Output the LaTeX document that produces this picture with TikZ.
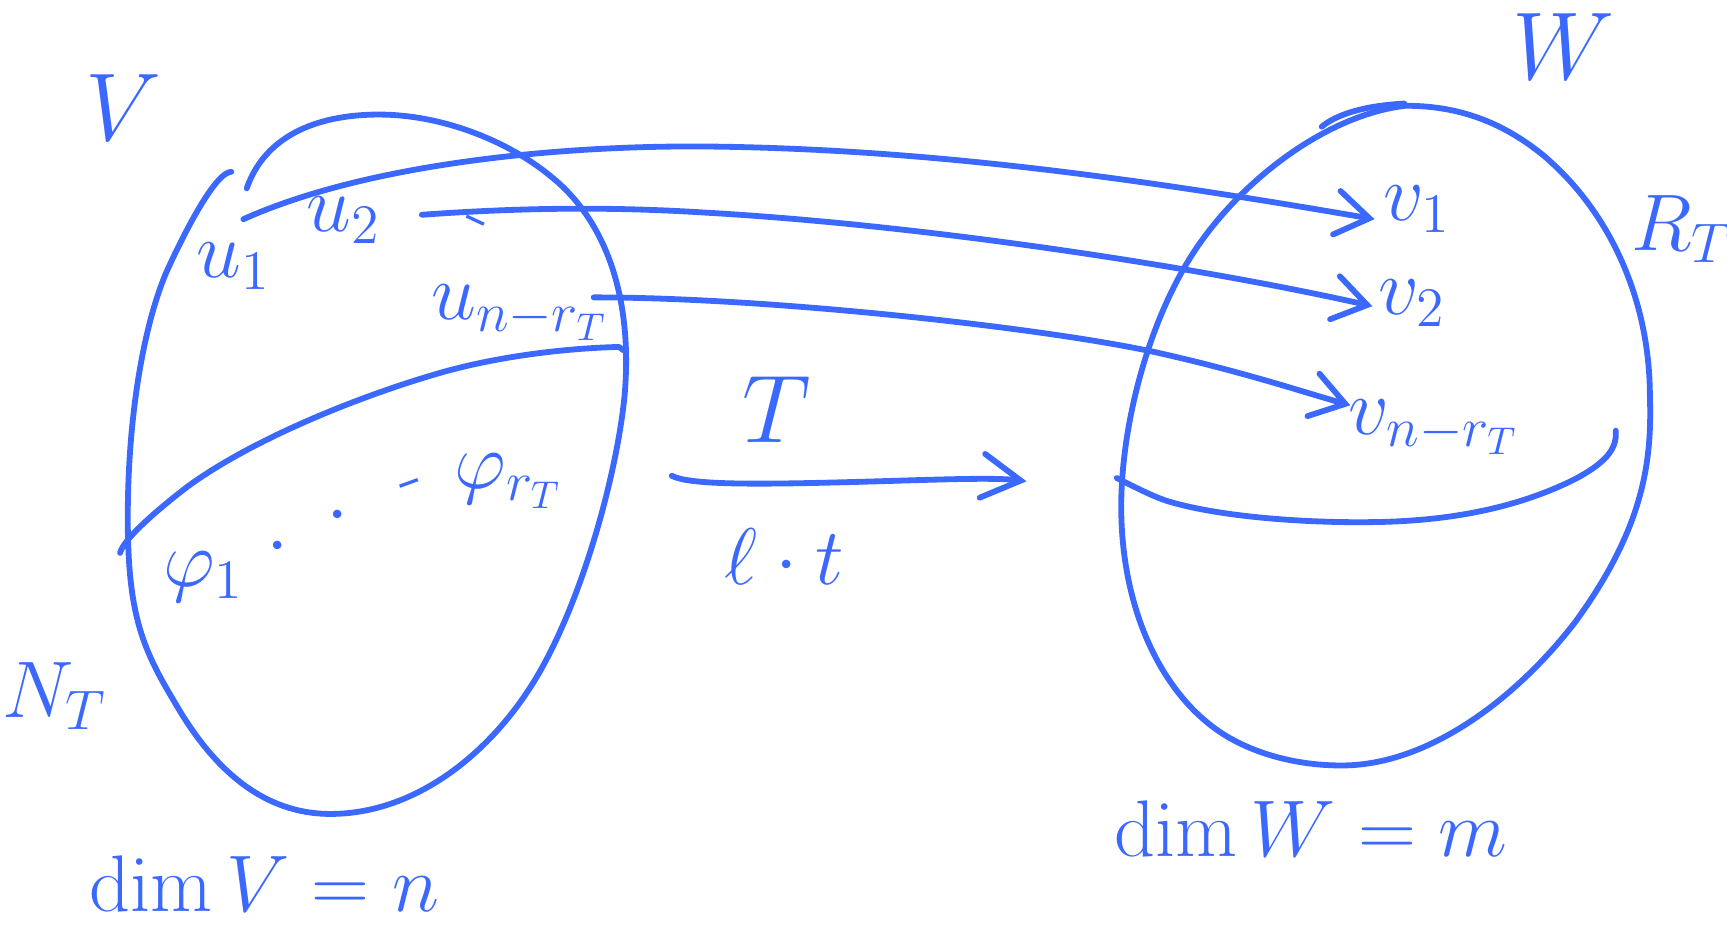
\documentclass[tikz,border=0pt]{standalone}
\usetikzlibrary{arrows.meta}
\definecolor{ink}{RGB}{59,104,255}
\begin{document}
\begin{tikzpicture}[x=0.01cm,y=-0.01cm, line cap=round, line join=round,
  outline/.style={draw=ink, line width=1.5pt},
  conn/.style={draw=ink, line width=1.5pt, -{Straight Barb[length=3mm,width=4mm,line cap=round]}},
  lab/.style={text=ink, inner sep=0pt, font=\fontsize{20}{24}\selectfont},
  biglab/.style={lab, font=\fontsize{28}{32}\selectfont},
]
\useasboundingbox (0,0) rectangle (1568,839);

% left blob V
\draw[outline] (210,156) .. controls (198,156) and (175,195) .. (152,245)
  .. controls (130,295) and (116,380) .. (116,470)
  .. controls (116,560) and (130,590) .. (160,640)
  .. controls (195,700) and (240,739) .. (300,739)
  .. controls (380,739) and (450,680) .. (490,610)
  .. controls (530,540) and (560,430) .. (567,360)
  .. controls (575,270) and (550,200) .. (500,160)
  .. controls (460,127) and (400,104) .. (344,104)
  .. controls (285,104) and (240,125) .. (224,171);
% kernel boundary
\draw[outline] (109,502) .. controls (112,490) and (140,465) .. (170,442)
  .. controls (230,398) and (330,358) .. (405,337)
  .. controls (460,322) and (520,316) .. (562,315) -- (566,318);

% right blob W
\draw[outline] (1276,96) .. controls (1200,105) and (1120,170) .. (1080,235)
  .. controls (1040,300) and (1018,390) .. (1018,460)
  .. controls (1018,560) and (1060,640) .. (1120,672)
  .. controls (1150,688) and (1185,695) .. (1218,695)
  .. controls (1300,695) and (1380,630) .. (1430,565)
  .. controls (1492,480) and (1500,420) .. (1498,360)
  .. controls (1498,270) and (1460,190) .. (1400,140)
  .. controls (1360,108) and (1320,96) .. (1276,96);
\draw[outline] (1200,115) .. controls (1215,103) and (1240,96) .. (1275,94);
% range boundary
\draw[outline] (1014,434) .. controls (1030,442) and (1045,450) .. (1060,455)
  .. controls (1110,470) and (1190,475) .. (1248,474)
  .. controls (1320,473) and (1380,460) .. (1430,435)
  .. controls (1462,418) and (1468,405) .. (1467,391);

% labels
\node[biglab, font=\fontsize{32}{36}\selectfont] (V) at (112,98) {$V$};
\node[biglab] (W) at (1420,42) {$W$};
\node[lab] (u1) at (212,242) {$u_1$};
\node[lab] (u2) at (312,200) {$u_2$};
\node[lab, rotate=-25] (d0) at (430,207) {-};
\node[lab] (un) at (472,284) {$u_{n-r_T}$};
\node[lab] (p1) at (185,524) {$\varphi_1$};
\node[lab] (d1) at (252,497) {$\cdot$};
\node[lab] (d2) at (307,469) {$\cdot$};
\node[lab, rotate=20] (d3) at (375,445) {-};
\node[lab] (pr) at (462,437) {$\varphi_{r_T}$};
\node[lab] (NT) at (50,632) {$N_T$};
\node[lab] (RT) at (1527,208) {$R_T$};
\node[lab] (v1) at (1287,190) {$v_1$};
\node[lab] (v2) at (1282,275) {$v_2$};
\node[lab] (vn) at (1302,388) {$v_{n-r_T}$};
\node[biglab] (T) at (705,372) {$T$};
\node[lab] (lt) at (712,505) {$\ell\cdot t$};
\node[lab] (dV) at (240,802) {$\dim V = n$};
\node[lab] (dW) at (1190,752) {$\dim W = m$};

% connector ends
\coordinate (a1) at (221,199);
\coordinate (b1) at (1248,199);
\coordinate (a2) at (383,195);
\coordinate (b2) at (1246,278);
\coordinate (a3) at (539,270);
\coordinate (b3) at (1226,368);
\coordinate (a4) at (610,432);
\coordinate (b4) at (932,437);

\draw[conn] (a1) .. controls (330,150) and (500,132) .. (640,133) .. controls (850,135) and (1050,165) .. (b1);
\draw[conn] (a2) .. controls (480,188) and (560,188) .. (640,193) .. controls (850,205) and (1100,245) .. (b2);
\draw[conn] (a3) .. controls (700,270) and (950,298) .. (1050,320) .. controls (1130,338) and (1180,355) .. (b3);
\draw[conn, -{Straight Barb[length=3.5mm,width=4mm,line cap=round]}] (a4) .. controls (625,440) and (680,440) .. (760,438) .. controls (840,436) and (900,433) .. (b4);
\end{tikzpicture}
\end{document}
